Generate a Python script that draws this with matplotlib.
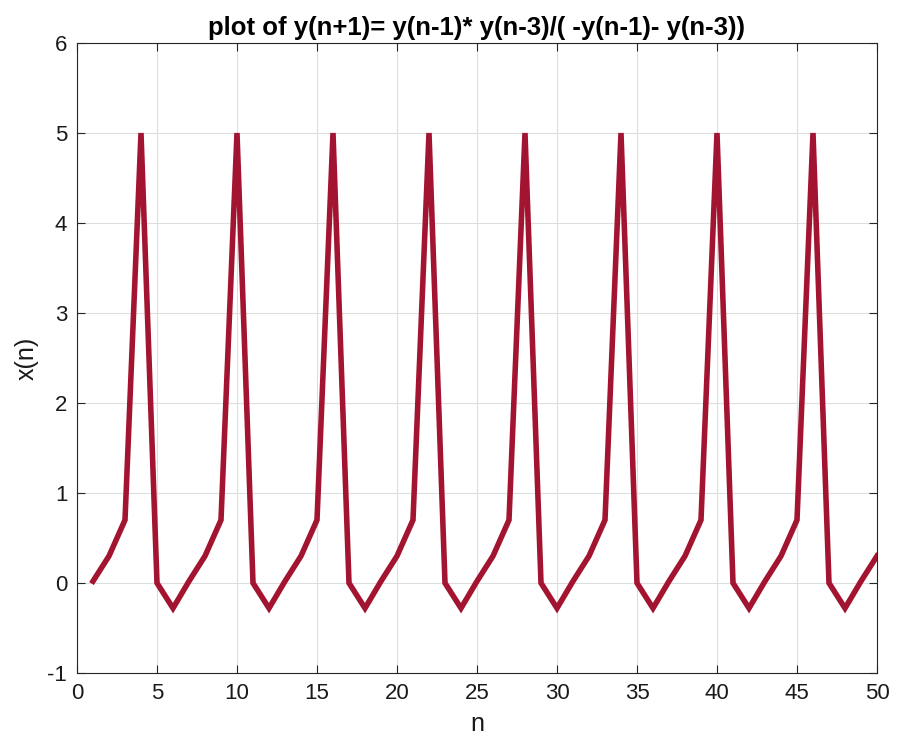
import matplotlib
matplotlib.use("Agg")
import matplotlib.pyplot as plt

n = list(range(1, 51))
cycle = [0.02, 0.3, 0.7, 5.0, 0.0, -0.28]
y = [cycle[(k - 1) % 6] for k in n]

xticks = list(range(0, 51, 5))
yticks = list(range(-1, 7))

plt.rcParams['font.family'] = ['Liberation Sans', 'DejaVu Sans']
plt.rcParams['axes.unicode_minus'] = False
fig = plt.figure(figsize=(9.01, 7.38), dpi=100)
ax = fig.add_axes([77/901, 1 - 673/738, 800/901, 630/738])
ax.plot(n, y, color='#A2142F', linewidth=4.0, solid_joinstyle='miter')
ax.set_xlim(0, 50)
ax.set_ylim(-1, 6)
ax.set_xticks(xticks)
ax.set_yticks(yticks)
ax.grid(True, color='#dedede', linewidth=0.8)
ax.set_axisbelow(True)
ax.tick_params(direction='in', top=True, right=True, labelsize=16, length=6, pad=7, colors='#262626', labelcolor='#1a1a1a')
for s in ax.spines.values():
    s.set_color('#262626')
    s.set_linewidth(0.8)
ax.set_xlabel('n', fontsize=18, color='#1a1a1a', labelpad=6)
ax.set_ylabel('x(n)', fontsize=18, color='#1a1a1a', labelpad=6)
ax.set_title('plot of y(n+1)= y(n-1)* y(n-3)/( -y(n-1)- y(n-3))', fontsize=18.5, fontweight='bold', pad=6)
fig.savefig('out.png', dpi=100)
